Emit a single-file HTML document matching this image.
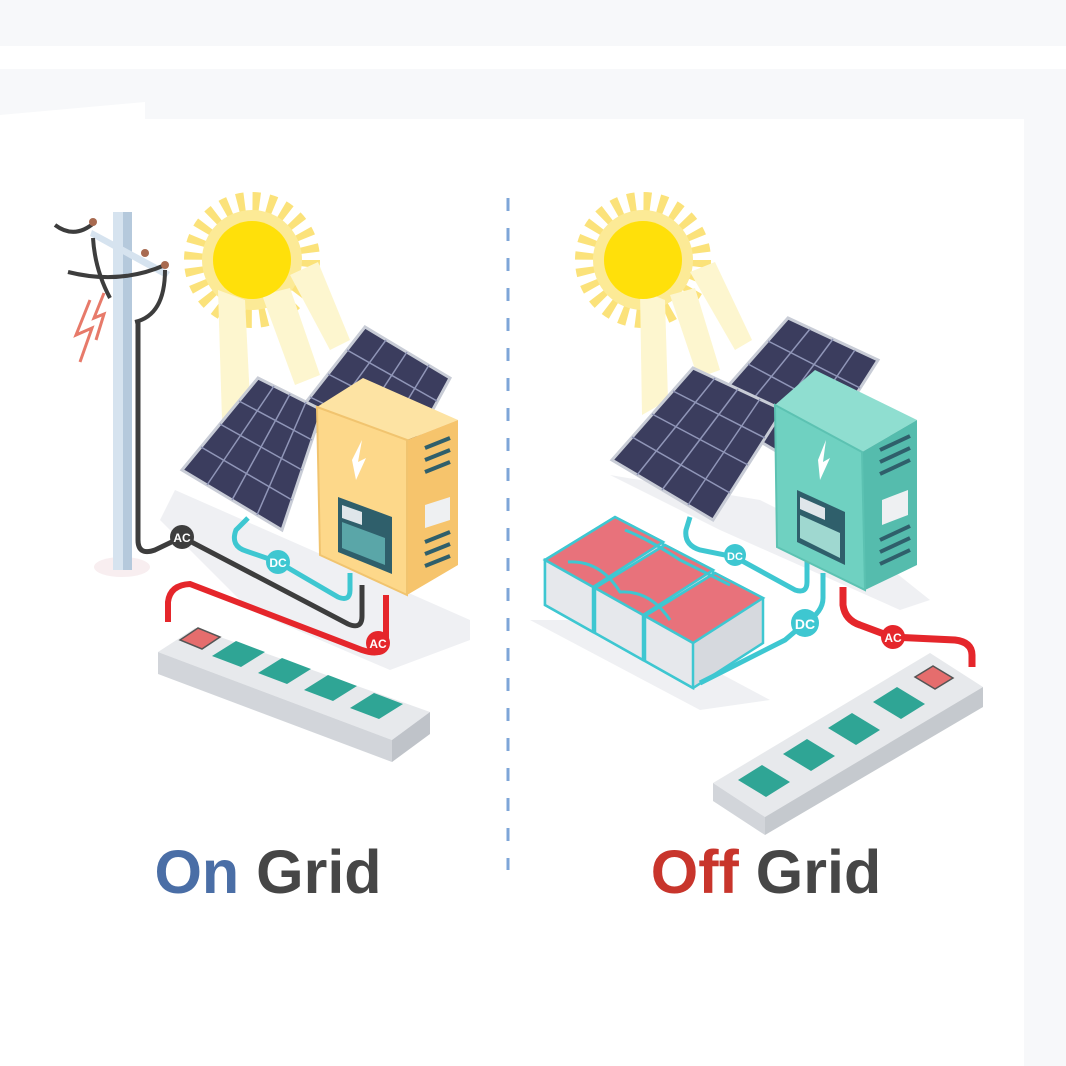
<!DOCTYPE html>
<html><head><meta charset="utf-8"><style>html,body{margin:0;padding:0;background:#fff}svg{display:block}</style></head><body>
<svg width="1066" height="1066" viewBox="0 0 1066 1066" xmlns="http://www.w3.org/2000/svg">
<rect width="1066" height="1066" fill="#fff"/>
<rect x="0" y="0" width="1066" height="46" fill="#f7f8fa"/>
<rect x="0" y="69" width="1066" height="50" fill="#f7f8fa"/>
<rect x="1024" y="69" width="42" height="997" fill="#f7f8fa"/>
<polygon points="0,115 145,102 145,119 1024,119 1024,1066 0,1066" fill="#fff"/>

<line x1="508" y1="198" x2="508" y2="870" stroke="#7ea6d8" stroke-width="3" stroke-dasharray="13,17"/>

<!-- LEFT -->
<g>
<circle cx="252" cy="260" r="48" fill="none" stroke="#fbe27a" stroke-width="40" stroke-dasharray="6,6.57"/>
<circle cx="252" cy="260" r="50" fill="#fcea96"/>
<polygon points="218,290 245,300 250,400 222,420" fill="#fdf6cf"/>
<polygon points="262,295 290,288 320,375 295,385" fill="#fdf6cf"/>
<polygon points="290,275 318,262 350,340 330,350" fill="#fdf6cf"/>
<circle cx="252" cy="260" r="39" fill="#ffe00a"/>
<polygon points="175,490 300,545 470,620 470,640 390,670 250,610 160,520" fill="#eff0f3"/>
<ellipse cx="122" cy="567" rx="28" ry="10" fill="#f8eef0"/>
<rect x="113" y="212" width="10" height="358" fill="#d6e3ef"/>
<rect x="123" y="212" width="9" height="358" fill="#b5c9dc"/>
<polygon points="92,230 170,272 166,278 90,236" fill="#d6e3ef"/>
<path d="M55,225 Q75,240 95,222" stroke="#3d3d3d" stroke-width="4" fill="none"/>
<path d="M68,272 Q120,285 165,265" stroke="#3d3d3d" stroke-width="4" fill="none"/>
<path d="M93,238 Q95,270 110,298" stroke="#3d3d3d" stroke-width="4" fill="none"/>
<path d="M165,270 Q165,315 135,322" stroke="#3d3d3d" stroke-width="4" fill="none"/>
<circle cx="93" cy="222" r="4" fill="#a86a50"/><circle cx="145" cy="253" r="4" fill="#a86a50"/><circle cx="165" cy="265" r="4" fill="#a86a50"/>
<polyline points="90,300 76,335 92,328 80,362" stroke="#e77a6a" stroke-width="3" fill="none"/>
<polyline points="104,293 94,318 104,314 96,340" stroke="#e77a6a" stroke-width="3" fill="none"/>
<polygon points="292,420 365,327 450,378 400,470" fill="#3b3d5e" stroke="#c8ccd6" stroke-width="3"/>
<g stroke="#9096b8" stroke-width="1.5">
<line x1="310" y1="397" x2="412" y2="447"/><line x1="328" y1="374" x2="425" y2="424"/><line x1="347" y1="350" x2="437" y2="401"/>
<line x1="319" y1="432" x2="386" y2="340"/><line x1="346" y1="445" x2="407" y2="352"/><line x1="373" y1="457" x2="429" y2="365"/></g>
<polygon points="182,470 258,378 322,410 282,530" fill="#3b3d5e" stroke="#c8ccd6" stroke-width="3"/>
<g stroke="#9096b8" stroke-width="1.5">
<line x1="201" y1="447" x2="292" y2="500"/><line x1="220" y1="424" x2="302" y2="470"/><line x1="239" y1="401" x2="312" y2="440"/>
<line x1="207" y1="485" x2="274" y2="386"/><line x1="232" y1="500" x2="290" y2="394"/><line x1="257" y1="515" x2="306" y2="402"/></g>
<path d="M138,322 V540 Q138,556 155,550 L182,537 L348,624 Q362,630 362,616 V585" stroke="#3d3d3d" stroke-width="5" fill="none"/>
<path d="M248,518 L236,530 Q230,546 246,551 L278,562 L338,597 Q350,602 350,590 V573" stroke="#3ec7d1" stroke-width="5" fill="none"/>
<path d="M168,622 V602 Q170,585 190,584 L362,650 Q386,658 386,640 V595" stroke="#e5262b" stroke-width="6" fill="none"/>
<circle cx="182" cy="537" r="12" fill="#3d3d3d"/><text x="182" y="542" font-family="Liberation Sans, sans-serif" font-size="12" font-weight="bold" fill="#fff" text-anchor="middle">AC</text>
<circle cx="278" cy="562" r="12" fill="#3ec7d1"/><text x="278" y="567" font-family="Liberation Sans, sans-serif" font-size="12" font-weight="bold" fill="#fff" text-anchor="middle">DC</text>
<circle cx="378" cy="643" r="12" fill="#e5262b"/><text x="378" y="648" font-family="Liberation Sans, sans-serif" font-size="12" font-weight="bold" fill="#fff" text-anchor="middle">AC</text>
<polygon points="317,407 363,378 458,420 407,440" fill="#fde3a3"/>
<polygon points="407,440 458,420 458,565 407,595" fill="#f6c46c"/>
<polygon points="317,407 407,440 407,595 320,555" fill="#fdd88a" stroke="#f1c46f" stroke-width="2"/>
<polygon points="338,497 392,517 392,574 338,552" fill="#2f5f6b"/>
<polygon points="342,505 362,512 362,525 342,518" fill="#dfe6ea"/>
<polygon points="342,522 385,538 385,565 342,548" fill="#5aa6a8"/>
<polyline points="352,460 362,440 358,462 366,458 356,480" fill="#fff"/>
<g stroke="#2f5f6b" stroke-width="4"><line x1="425" y1="448" x2="450" y2="438"/><line x1="425" y1="460" x2="450" y2="450"/><line x1="425" y1="472" x2="450" y2="462"/><line x1="425" y1="542" x2="450" y2="532"/><line x1="425" y1="554" x2="450" y2="544"/><line x1="425" y1="566" x2="450" y2="556"/></g>
<polygon points="425,505 450,497 450,520 425,528" fill="#eef0f2"/>
<polygon points="158,652 195,628 430,712 392,740" fill="#e7e9ec"/>
<polygon points="158,652 392,740 392,762 158,674" fill="#d2d5da"/>
<polygon points="392,740 430,712 430,734 392,762" fill="#bfc3c9"/>
<polygon points="180,640 198,628 220,637 202,649" fill="#e56d6d" stroke="#555" stroke-width="1.5"/>
<g fill="#2fa595">
<polygon points="212,656 236,641 265,652 241,667"/>
<polygon points="258,673 282,658 311,669 287,684"/>
<polygon points="304,690 328,675 357,686 333,701"/>
<polygon points="350,708 374,693 403,704 379,719"/>
</g>
</g>

<!-- RIGHT -->
<g>
<circle cx="643" cy="260" r="48" fill="none" stroke="#fbe27a" stroke-width="40" stroke-dasharray="6,6.57"/>
<circle cx="643" cy="260" r="50" fill="#fcea96"/>
<polygon points="640,290 665,300 668,400 642,415" fill="#fdf6cf"/>
<polygon points="670,295 695,288 720,370 698,378" fill="#fdf6cf"/>
<polygon points="690,272 715,262 752,340 735,350" fill="#fdf6cf"/>
<circle cx="643" cy="260" r="39" fill="#ffe00a"/>
<polygon points="610,475 720,530 900,610 930,600 880,560 760,500" fill="#eff0f3"/>
<polygon points="530,620 700,710 770,700 620,620" fill="#eff0f3"/>
<polygon points="707,410 788,318 878,360 808,470" fill="#3b3d5e" stroke="#c8ccd6" stroke-width="3"/>
<g stroke="#9096b8" stroke-width="1.5">
<line x1="727" y1="387" x2="825" y2="443"/><line x1="748" y1="364" x2="843" y2="415"/><line x1="768" y1="341" x2="860" y2="388"/>
<line x1="732" y1="425" x2="810" y2="329"/><line x1="758" y1="440" x2="833" y2="339"/><line x1="783" y1="455" x2="855" y2="350"/></g>
<polygon points="612,460 693,368 783,410 713,520" fill="#3b3d5e" stroke="#c8ccd6" stroke-width="3"/>
<g stroke="#9096b8" stroke-width="1.5">
<line x1="632" y1="437" x2="730" y2="493"/><line x1="652" y1="414" x2="748" y2="465"/><line x1="673" y1="391" x2="765" y2="438"/>
<line x1="637" y1="475" x2="715" y2="378"/><line x1="662" y1="490" x2="738" y2="389"/><line x1="688" y1="505" x2="760" y2="399"/></g>
<g stroke="#3ec7d1" stroke-width="2.5">
<polygon points="545,560 545,605 593,632 663,587 663,542 615,517" fill="#d6d9de"/>
<polygon points="545,560 615,517 663,542 593,587" fill="#e8727b"/>
<polygon points="545,560 593,587 593,632 545,605" fill="#e6e8ec"/>
<polygon points="595,588 595,633 643,660 713,615 713,570 665,545" fill="#d6d9de"/>
<polygon points="595,588 665,545 713,570 643,615" fill="#e8727b"/>
<polygon points="595,588 643,615 643,660 595,633" fill="#e6e8ec"/>
<polygon points="645,616 645,661 693,688 763,643 763,598 715,573" fill="#d6d9de"/>
<polygon points="645,616 715,573 763,598 693,643" fill="#e8727b"/>
<polygon points="645,616 693,643 693,688 645,661" fill="#e6e8ec"/>
</g>
<path d="M568,562 Q600,560 620,592 Q650,590 670,620" stroke="#3ec7d1" stroke-width="3" fill="none"/>
<path d="M625,530 Q650,540 680,560 Q700,570 730,585" stroke="#3ec7d1" stroke-width="3" fill="none"/>
<path d="M690,517 L686,530 Q684,545 700,550 L735,557 L795,590 Q807,594 807,582 V560" stroke="#3ec7d1" stroke-width="5" fill="none"/>
<path d="M700,683 L785,640 L805,623 Q823,612 823,598 V573" stroke="#3ec7d1" stroke-width="5" fill="none"/>
<path d="M843,587 V605 Q845,620 860,625 L892,637 L955,640 Q972,642 972,655 V667" stroke="#e5262b" stroke-width="7" fill="none"/>
<circle cx="735" cy="555" r="11" fill="#3ec7d1"/><text x="735" y="560" font-family="Liberation Sans, sans-serif" font-size="11" font-weight="bold" fill="#fff" text-anchor="middle">DC</text>
<circle cx="805" cy="623" r="14" fill="#3ec7d1"/><text x="805" y="629" font-family="Liberation Sans, sans-serif" font-size="14" font-weight="bold" fill="#fff" text-anchor="middle">DC</text>
<circle cx="893" cy="637" r="12" fill="#e5262b"/><text x="893" y="642" font-family="Liberation Sans, sans-serif" font-size="12" font-weight="bold" fill="#fff" text-anchor="middle">AC</text>
<polygon points="775,405 815,370 917,420 862,452" fill="#8fded0"/>
<polygon points="862,452 917,420 917,565 865,590" fill="#55bcad"/>
<polygon points="775,405 862,452 865,590 777,547" fill="#6fd1c1" stroke="#5cc2b2" stroke-width="2"/>
<polygon points="797,490 845,512 845,565 797,542" fill="#2f5f6b"/>
<polygon points="800,497 825,508 825,520 800,509" fill="#dfe6ea"/>
<polygon points="800,515 840,533 840,558 800,538" fill="#9fd8d0"/>
<polyline points="818,460 826,440 823,462 830,458 820,480" fill="#fff"/>
<g stroke="#2f5f6b" stroke-width="4"><line x1="880" y1="450" x2="910" y2="436"/><line x1="880" y1="462" x2="910" y2="448"/><line x1="880" y1="474" x2="910" y2="460"/><line x1="880" y1="540" x2="910" y2="526"/><line x1="880" y1="552" x2="910" y2="538"/><line x1="880" y1="564" x2="910" y2="550"/></g>
<polygon points="882,500 908,490 908,515 882,525" fill="#eef0f2"/>
<polygon points="713,783 930,653 983,687 765,817" fill="#e7e9ec"/>
<polygon points="713,783 765,817 765,835 713,801" fill="#d2d5da"/>
<polygon points="765,817 983,687 983,707 765,835" fill="#c5c9ce"/>
<polygon points="915,677 933,666 953,678 935,689" fill="#e56d6d" stroke="#555" stroke-width="1.5"/>
<g fill="#2fa595">
<polygon points="738,780 762,765 790,782 766,797"/>
<polygon points="783,754 807,739 835,756 811,771"/>
<polygon points="828,728 852,713 880,730 856,745"/>
<polygon points="873,702 897,687 925,704 901,719"/>
</g>
</g>

<text x="268" y="893" font-family="Liberation Sans, sans-serif" font-size="61" font-weight="bold" text-anchor="middle"><tspan fill="#4a6ea6">On</tspan><tspan fill="#464646"> Grid</tspan></text>
<text x="766" y="893" font-family="Liberation Sans, sans-serif" font-size="61" font-weight="bold" text-anchor="middle"><tspan fill="#c8352c">Off</tspan><tspan fill="#464646"> Grid</tspan></text>
</svg>
</body></html>
